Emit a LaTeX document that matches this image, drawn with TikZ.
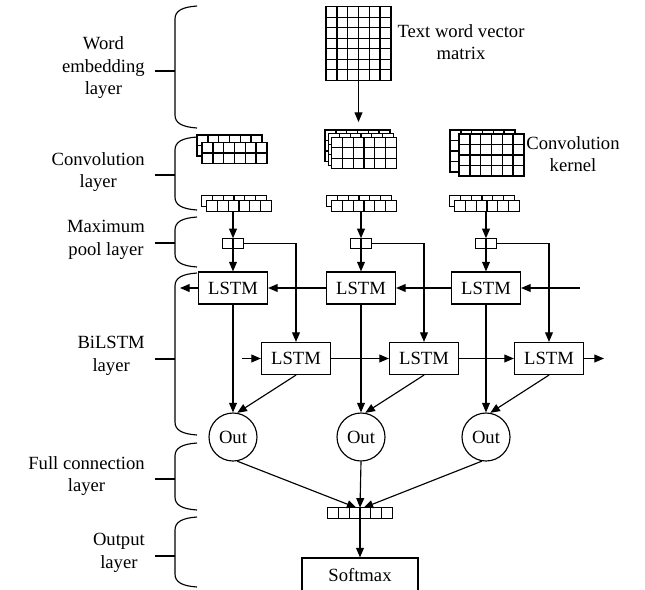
\documentclass[tikz,border=0pt]{standalone}
\usepackage{fontspec}
\setmainfont{Liberation Serif}
\usetikzlibrary{arrows.meta, positioning, calc}

% cell size of the little feature maps
\newlength{\kcw}\setlength{\kcw}{0.216cm}
\newlength{\kch}\setlength{\kch}{0.21cm}
% \fmap{name}{centre}{columns}{rows}
\newcommand{\fmap}[4]{%
  \node[kbox, minimum width=#3*\kcw, minimum height=#4*\kch] (#1) at #2 {};
  \foreach \k in {1,...,#3}
    \draw[kline] ($(#1.north west)!\k/#3!(#1.north east)$) -- ($(#1.south west)!\k/#3!(#1.south east)$);
  \foreach \k in {1,...,#4}
    \draw[kline] ($(#1.north west)!\k/#4!(#1.south west)$) -- ($(#1.north east)!\k/#4!(#1.south east)$);
}

\begin{document}
\begin{tikzpicture}[x=0.02cm, y=-0.02cm,
        font=\fontsize{10.6}{12.8}\selectfont,
        line width=0.65pt,
        kbox/.style={rectangle, draw, fill=white, inner sep=0pt, outer sep=0pt, line width=0.75pt},
        kline/.style={line width=0.75pt},
        lstm/.style={rectangle, draw, fill=white, minimum width=1.38cm, minimum height=0.64cm, inner sep=0pt},
        outc/.style={circle, draw, minimum size=0.96cm, inner sep=0pt},
        soft/.style={rectangle, draw, minimum width=2.32cm, minimum height=0.7cm, inner sep=0pt},
        lab/.style={anchor=east, align=center, inner xsep=5.5pt, inner ysep=0pt, yshift=0.06cm},
        arr/.style={-{Triangle[length=5.5pt, width=4.5pt]}}
    ]
    \useasboundingbox (0,0) rectangle (645,589);

    % --- layer braces and their names ---
    \foreach \t/\b/\m/\txt [count=\n] in {
        6/128/71/{Word\\embedding\\layer},
        137/210/175/{Convolution\\layer},
        217/267/243/{Maximum\\pool layer},
        273/435/359/{BiLSTM\\layer},
        443/510/479/{Full connection\\layer},
        517/587/556/{Output\\layer}} {
        \draw (197,\t) .. controls (182,\t+1) and (175,\t+5) .. (175,\t+13)
            -- (175,\b-13) .. controls (175,\b-5) and (182,\b-1) .. (197,\b);
        \node[lab] (lab\n) at (155,\m) {\txt};
        \draw (lab\n.east |- 175,\m) -- (175,\m);
    }

    % --- word vector matrix ---
    \fmap{emb}{(358.5,43.5)}{6}{7}
    \node[align=center] (embtxt) at (461,42) {Text word vector\\matrix};

    % --- convolution kernels ---
    \fmap{ker1b}{(229.5,145.5)}{6}{2}
    \fmap{ker1}{(234.5,153)}{6}{2}
    \fmap{ker2c}{(357.5,145.75)}{6}{3}
    \fmap{ker2b}{(361,149.5)}{6}{3}
    \fmap{ker2}{(364,153)}{6}{3}
    \fmap{ker3b}{(482.5,151)}{6}{4}
    \fmap{ker3}{(491.5,155)}{6}{4}
    \node[align=center] (kertxt) at (573,154) {Convolution\\kernel};

    \draw[arr, shorten >=0.16cm] (emb.south) -- (emb.south |- ker2c.north);

    % --- convolved features ---
    \fmap{feat1b}{(234,201)}{6}{1}
    \fmap{feat1}{(239,206)}{6}{1}
    \fmap{feat2b}{(359,201)}{6}{1}
    \fmap{feat2}{(364,206)}{6}{1}
    \fmap{feat3b}{(482,201)}{6}{1}
    \fmap{feat3}{(487,206)}{6}{1}

    % --- pooling ---
    \fmap{pool1}{(233,243.5)}{2}{1}
    \fmap{pool2}{(361,243.5)}{2}{1}
    \fmap{pool3}{(486,243.5)}{2}{1}

    % --- BiLSTM ---
    \node[lstm] (bwd1) at (233,288) {LSTM};
    \node[lstm] (bwd2) at (361,288) {LSTM};
    \node[lstm] (bwd3) at (486,288) {LSTM};
    \node[lstm] (fwd1) at (296,358.5) {LSTM};
    \node[lstm] (fwd2) at (424,358.5) {LSTM};
    \node[lstm] (fwd3) at (549,358.5) {LSTM};

    \foreach \i in {1,2,3} {
        \draw[arr] (pool\i |- feat\i.south) -- (pool\i.north);
        \draw[arr] (pool\i.south) -- (bwd\i.north);
        \draw[arr] (pool\i.east) -| (fwd\i.north);
    }

    \coordinate (bin) at (580,288);
    \coordinate (bout) at (180,288);
    \coordinate (fin) at (242,358.5);
    \coordinate (fout) at (604,358.5);
    \draw[arr] (bin) -- (bwd3.east);
    \draw[arr] (bwd3.west) -- (bwd2.east);
    \draw[arr] (bwd2.west) -- (bwd1.east);
    \draw[arr] (bwd1.west) -- (bout);
    \draw[arr] (fin) -- (fwd1.west);
    \draw[arr] (fwd1.east) -- (fwd2.west);
    \draw[arr] (fwd2.east) -- (fwd3.west);
    \draw[arr] (fwd3.east) -- (fout);

    % --- outputs ---
    \node[outc] (out1) at (233,437) {Out};
    \node[outc] (out2) at (361,437) {Out};
    \node[outc] (out3) at (486,437) {Out};
    \foreach \i in {1,2,3} {
        \draw[arr] (bwd\i.south) -- (out\i.north);
        \draw[arr] (fwd\i.south) -- (out\i.80);
    }

    % --- full connection and softmax ---
    \fmap{vec}{(360,513)}{6}{1}
    \draw[arr] (out1.-80) -- ([xshift=-0.07cm]vec.north);
    \draw[arr] (out2.south) -- (vec.north);
    \draw[arr] (out3.-100) -- ([xshift=0.07cm]vec.north);

    \node[soft] (softmax) at (360,575.5) {Softmax};
    \draw[arr] (vec.south) -- (softmax.north);

\end{tikzpicture}
\end{document}
